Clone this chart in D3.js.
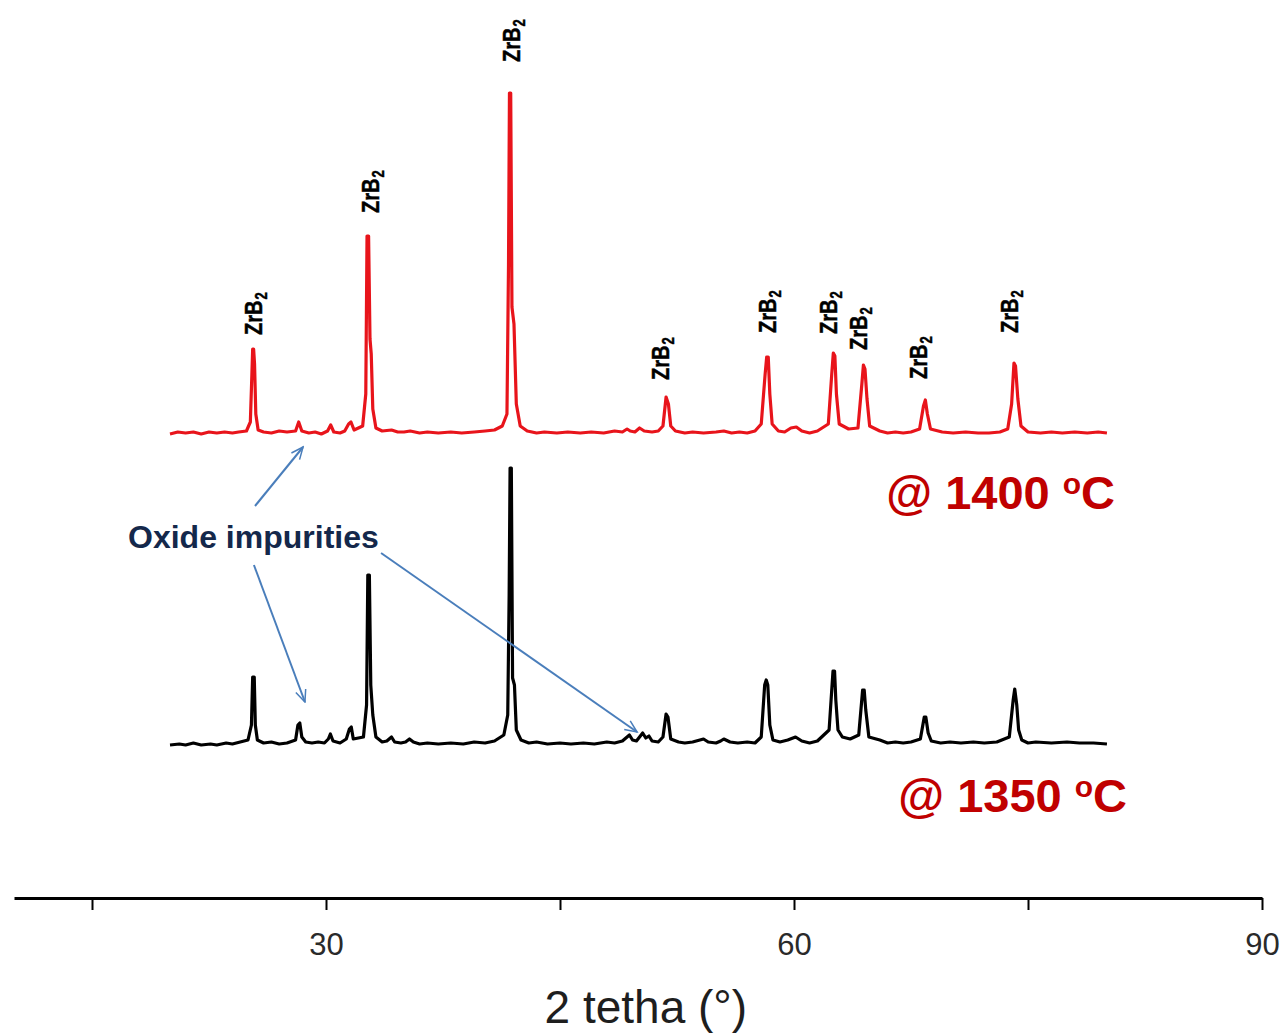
<!DOCTYPE html>
<html>
<head>
<meta charset="utf-8">
<script src="https://cdn.jsdelivr.net/npm/d3@7"></script>
<style>
  html, body { margin: 0; padding: 0; background: #fff; }
  svg { display: block; font-family: "Liberation Sans", Arial, sans-serif; }
</style>
</head>
<body>
<svg id="chart"></svg>
<script>
// XRD patterns, [2theta, intensity a.u.]
const pattern1400 = [
  [20.0, 0], [20.5, 2], [21.0, 1], [21.5, 2], [22.0, 0], [22.5, 2], [23.0, 1], [23.5, 2], [24.0, 1], [24.4, 2], [24.9, 3],
  [25.15, 12], [25.25, 60], [25.3, 85], [25.36, 85], [25.42, 70], [25.5, 20], [25.65, 4],
  [26.0, 2], [26.5, 1], [27.0, 3], [27.5, 2], [28.05, 3], [28.25, 12], [28.45, 3], [28.9, 1], [29.3, 2],
  [29.7, 0], [30.1, 3], [30.3, 9], [30.5, 2], [30.9, 1], [31.2, 3], [31.45, 10], [31.6, 12], [31.8, 4],
  [32.35, 8], [32.55, 40], [32.63, 198], [32.73, 198], [32.82, 95], [32.9, 80], [33.0, 25], [33.2, 6],
  [33.6, 3], [34.2, 4], [34.6, 2], [35.0, 2], [35.4, 3], [36.0, 1], [36.5, 2], [37.2, 1], [38.0, 2], [38.7, 1], [39.5, 2], [40.2, 3],
  [40.8, 4], [41.3, 8], [41.6, 20], [41.7, 170], [41.76, 341], [41.84, 341], [41.92, 127], [42.05, 110], [42.2, 30], [42.45, 8],
  [42.9, 3], [43.5, 1], [44.0, 2], [44.8, 1], [45.5, 2], [46.3, 1], [47.0, 2], [47.8, 1], [48.5, 3], [49.0, 2], [49.3, 5], [49.5, 3],
  [49.8, 2], [50.1, 6], [50.4, 3], [50.9, 2],
  [51.3, 3], [51.6, 8], [51.8, 37], [51.95, 30], [52.1, 8], [52.4, 3],
  [53.0, 1], [53.5, 2], [54.2, 1], [55.0, 2], [55.5, 3], [56.0, 1], [56.5, 2], [57.0, 1], [57.5, 3],
  [57.9, 10], [58.15, 60], [58.25, 77], [58.35, 77], [58.45, 40], [58.6, 10],
  [59.0, 3], [59.4, 2], [59.8, 6], [60.15, 7], [60.5, 3], [61.0, 1], [61.5, 3],
  [62.2, 10], [62.42, 60], [62.52, 81], [62.62, 78], [62.72, 40], [62.9, 10],
  [63.5, 5], [64.1, 6], [64.35, 50], [64.45, 69], [64.55, 65], [64.68, 35], [64.85, 8],
  [65.5, 3], [66.0, 1], [66.5, 2], [67.0, 1], [67.5, 2], [68.05, 5], [68.3, 28], [68.42, 34], [68.55, 20], [68.75, 5],
  [69.5, 2], [70.2, 1], [71.0, 2], [71.8, 1], [72.5, 1], [73.2, 2], [73.7, 5], [73.95, 30], [74.1, 71], [74.2, 68], [74.35, 35], [74.55, 8],
  [75.0, 2], [75.8, 1], [76.5, 2], [77.2, 1], [78.0, 2], [78.8, 1], [79.5, 2], [80.06, 1]
];

const pattern1350 = [
  [20.0, 0], [20.6, 1], [21.0, 0], [21.5, 2], [22.0, 0], [22.6, 1], [23.0, 0], [23.6, 2], [24.0, 1], [24.5, 3], [25.0, 5],
  [25.22, 20], [25.3, 68], [25.4, 68], [25.47, 20], [25.6, 5],
  [26.0, 2], [26.5, 3], [27.0, 1], [27.5, 2], [28.05, 5], [28.2, 20], [28.32, 22], [28.45, 8], [28.7, 3],
  [29.1, 2], [29.5, 3], [29.9, 2], [30.15, 6], [30.28, 11], [30.45, 4], [30.9, 2], [31.3, 6], [31.5, 16], [31.62, 18], [31.75, 6],
  [32.4, 8], [32.6, 40], [32.68, 170], [32.78, 170], [32.87, 60], [33.0, 30], [33.2, 8],
  [33.6, 3], [33.9, 4], [34.2, 8], [34.4, 3], [34.8, 2], [35.1, 3], [35.35, 6], [35.6, 3],
  [36.0, 1], [36.5, 2], [37.2, 1], [38.0, 2], [38.8, 1], [39.5, 3], [40.2, 2], [40.8, 4], [41.4, 10], [41.65, 30],
  [41.74, 150], [41.8, 277], [41.88, 277], [41.96, 67], [42.08, 60], [42.2, 15], [42.5, 5],
  [43.0, 2], [43.5, 3], [44.2, 1], [45.0, 2], [45.7, 1], [46.5, 2], [47.2, 1], [48.0, 3], [48.5, 2], [49.0, 4], [49.45, 10], [49.65, 5],
  [49.9, 4], [50.15, 9], [50.3, 12], [50.5, 7], [50.7, 9], [50.9, 4],
  [51.3, 3], [51.6, 8], [51.8, 31], [51.92, 28], [52.1, 6], [52.6, 3],
  [53.0, 2], [53.5, 3], [54.2, 6], [54.5, 3], [55.0, 2], [55.3, 4], [55.5, 6], [55.9, 3], [56.4, 2], [57.0, 3], [57.5, 2],
  [57.9, 8], [58.12, 60], [58.22, 65], [58.32, 60], [58.45, 20], [58.65, 5],
  [59.1, 3], [59.6, 5], [60.1, 8], [60.5, 4], [61.0, 2], [61.5, 4],
  [62.25, 15], [62.5, 74], [62.6, 74], [62.68, 45], [62.82, 15], [63.1, 8],
  [63.6, 6], [64.15, 10], [64.4, 55], [64.5, 55], [64.6, 35], [64.8, 8],
  [65.5, 5], [66.0, 2], [66.5, 3], [67.0, 2], [67.5, 3], [68.1, 6], [68.35, 28], [68.45, 28], [68.6, 12], [68.8, 4],
  [69.4, 2], [70.0, 3], [70.7, 2], [71.5, 3], [72.2, 2], [73.0, 3], [73.8, 8], [74.05, 45], [74.15, 56], [74.28, 40], [74.4, 15], [74.6, 5],
  [75.0, 2], [75.5, 3], [76.5, 2], [77.5, 3], [78.3, 2], [79.2, 2], [80.06, 1]
];

// vertical offset of the 1400 °C pattern (stacked plot)
const offset1400 = 311;

// ZrB2 reflection labels: 2theta and intensity of label foot (stacked units)
const zrb2Theta = [25.35, 32.82, 41.86, 51.44, 58.27, 62.18, 64.10, 67.95, 73.78];
const zrb2Level = [410, 532, 683, 365, 412, 411, 395, 366, 412];

// x axis ticks
const xTicks = [15, 30, 45, 60, 75, 90];
const xTickLabels = [30, 60, 90];

// "Oxide impurities" arrows: [from, to] as [2theta, level]
const oxideArrows = [
  [[25.45, 239], [28.53, 298]],
  [[25.38, 180], [28.65, 43]],
  [[33.53, 192], [49.94, 13]]
];

const width = 1285, height = 1036;
const svg = d3.select("#chart").attr("width", width).attr("height", height);

const x = d3.scaleLinear().domain([10, 90]).range([14, 1262]);
const y = d3.scaleLinear().domain([0, 700]).range([745, 45]);

const line = d3.line()
  .x(d => x(d[0]))
  .y(d => y(d[1]));

svg.append("path")
  .datum(pattern1350)
  .attr("d", line)
  .attr("fill", "none")
  .attr("stroke", "#000")
  .attr("stroke-width", 3.2)
  .attr("stroke-linejoin", "round");

svg.append("path")
  .datum(pattern1400.map(d => [d[0], d[1] + offset1400]))
  .attr("d", line)
  .attr("fill", "none")
  .attr("stroke", "#e8141b")
  .attr("stroke-width", 3.2)
  .attr("stroke-linejoin", "round");

// ZrB2 labels, rotated
zrb2Theta.forEach((t, i) => {
  const lbl = svg.append("text")
    .attr("transform", `translate(${x(t)},${y(zrb2Level[i])}) rotate(-90) scale(1,1.2)`)
    .attr("dominant-baseline", "central")
    .attr("font-size", 20)
    .attr("font-weight", "bold")
    .attr("stroke", "#000")
    .attr("stroke-width", 0.4)
    .attr("fill", "#000");
  lbl.append("tspan").text("ZrB");
  lbl.append("tspan").attr("font-size", 13).attr("dy", 7).attr("dx", 1).text("2");
});

// temperature labels
function tempLabel(txt, t, lv) {
  const el = svg.append("text")
    .attr("x", x(t))
    .attr("y", y(lv))
    .attr("text-anchor", "end")
    .attr("font-size", 47)
    .attr("font-weight", "bold")
    .attr("fill", "#c00000");
  el.append("tspan").text(txt + " ");
  el.append("tspan").attr("font-size", 30).attr("dy", -15).text("o");
  el.append("tspan").attr("dy", 15).text("C");
}
tempLabel("@ 1400", 80.58, 236);
tempLabel("@ 1350", 81.35, -67);

// oxide impurities annotation
svg.append("text")
  .attr("x", x(17.31))
  .attr("y", y(197))
  .attr("font-size", 32)
  .attr("font-weight", "bold")
  .attr("fill", "#14284b")
  .text("Oxide impurities");

svg.append("defs").append("marker")
  .attr("id", "head")
  .attr("viewBox", "0 0 20 20")
  .attr("refX", 18).attr("refY", 10)
  .attr("markerWidth", 15).attr("markerHeight", 15)
  .attr("markerUnits", "userSpaceOnUse")
  .attr("orient", "auto")
  .append("path")
  .attr("d", "M2,3 L18,10 L2,17")
  .attr("fill", "none")
  .attr("stroke", "#4a7ebb")
  .attr("stroke-width", 2);

svg.selectAll(".arrow")
  .data(oxideArrows)
  .enter()
  .append("line")
  .attr("class", "arrow")
  .attr("x1", d => x(d[0][0]))
  .attr("y1", d => y(d[0][1]))
  .attr("x2", d => x(d[1][0]))
  .attr("y2", d => y(d[1][1]))
  .attr("stroke", "#4a7ebb")
  .attr("stroke-width", 2)
  .attr("marker-end", "url(#head)");

// x axis
const axisY = 898;
const xAxis = d3.axisBottom(x)
  .tickValues(xTicks)
  .tickFormat(d => xTickLabels.includes(d) ? d : "")
  .tickSize(12)
  .tickSizeOuter(0)
  .tickPadding(23);

const gx = svg.append("g")
  .attr("transform", `translate(0,${axisY})`)
  .call(xAxis);
gx.select(".domain").attr("stroke", "#000").attr("stroke-width", 3);
gx.selectAll(".tick line").attr("stroke", "#000").attr("stroke-width", 2);
gx.selectAll(".tick text")
  .attr("font-size", 31)
  .attr("font-family", "'Liberation Sans', Arial, sans-serif")
  .attr("fill", "#2a2a2a");

svg.append("text")
  .attr("x", x(50.5))
  .attr("y", 1023)
  .attr("text-anchor", "middle")
  .attr("font-size", 46)
  .attr("fill", "#1e1e1e")
  .text("2 tetha (°)");
</script>
</body>
</html>
